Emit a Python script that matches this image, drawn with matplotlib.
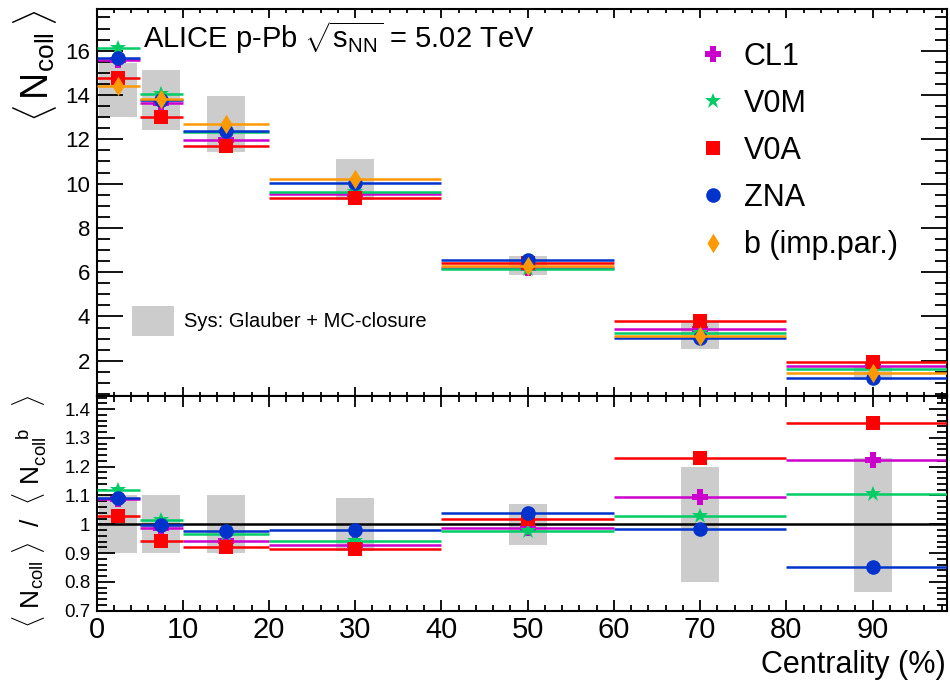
import numpy as np
import matplotlib
matplotlib.use('Agg')
import matplotlib.pyplot as plt
from matplotlib.lines import Line2D
from matplotlib.patches import Patch
from matplotlib.ticker import MultipleLocator, FuncFormatter

plt.rcParams['font.family'] = ['Liberation Sans', 'DejaVu Sans']
plt.rcParams['mathtext.fontset'] = 'custom'
plt.rcParams['mathtext.rm'] = 'Liberation Sans'
plt.rcParams['mathtext.it'] = 'Liberation Sans:italic'
plt.rcParams['mathtext.bf'] = 'Liberation Sans:bold'

# ---------------- data ----------------
bin_lo = [0, 5, 10, 20, 40, 60, 80]
bin_hi = [5, 10, 20, 40, 60, 80, 100]
centers = [2.5, 7.5, 15, 30, 50, 70, 90]

ncoll_cl1 = [15.58, 13.62, 11.99, 9.51, 6.21, 3.42, 1.78]
ncoll_v0m = [16.10, 14.03, 12.31, 9.63, 6.16, 3.24, 1.61]
ncoll_v0a = [14.79, 13.02, 11.71, 9.36, 6.41, 3.81, 1.96]
ncoll_zna = [15.65, 13.79, 12.38, 10.01, 6.55, 3.04, 1.23]
ncoll_b = [14.40, 13.81, 12.70, 10.20, 6.30, 3.10, 1.45]

sys_lo = [12.99, 12.42, 11.44, 9.25, 5.85, 2.51, 1.13]
sys_hi = [15.43, 15.15, 13.95, 11.10, 6.74, 3.73, 1.70]

ratio_cl1 = [1.087, 0.986, 0.943, 0.928, 0.986, 1.096, 1.223]
ratio_v0m = [1.119, 1.015, 0.966, 0.943, 0.978, 1.029, 1.104]
ratio_v0a = [1.029, 0.942, 0.922, 0.915, 1.018, 1.229, 1.351]
ratio_zna = [1.090, 0.998, 0.975, 0.980, 1.040, 0.983, 0.853]

ratio_sys_lo = [0.90, 0.90, 0.90, 0.908, 0.927, 0.80, 0.766]
ratio_sys_hi = [1.10, 1.10, 1.10, 1.09, 1.07, 1.20, 1.229]

labels = ['CL1', 'V0M', 'V0A', 'ZNA', 'b (imp.par.)']
# ---------------- styles ----------------
C_CL1 = '#cc00cc'
C_V0M = '#00cc66'
C_V0A = '#ff0000'
C_ZNA = '#0033cc'
C_B = '#ff9900'
GRAY = '#cccccc'
diamond = [(0, 1), (0.62, 0), (0, -1), (-0.62, 0), (0, 1)]

styles = {
    'CL1': dict(color=C_CL1, marker='P', ms=11),
    'V0M': dict(color=C_V0M, marker='*', ms=12),
    'V0A': dict(color=C_V0A, marker='s', ms=10),
    'ZNA': dict(color=C_ZNA, marker='o', ms=10.5),
    'b (imp.par.)': dict(color=C_B, marker=diamond, ms=14),
}

W, H = 950, 684
fig = plt.figure(figsize=(W / 100, H / 100), dpi=100)
left, right = 96.5 / W, 946.7 / W
ax1 = fig.add_axes([left, 1 - 395.5 / H, right - left, (395.5 - 9.3) / H])
ax2 = fig.add_axes([left, 1 - 610.7 / H, right - left, (610.7 - 395.5) / H])

c = np.array(centers, float)
xerr = [c - np.array(bin_lo), np.array(bin_hi) - c]
box_hw = 2.2
LW = 1.8

# upper panel boxes
ax1.bar(c, np.array(sys_hi) - np.array(sys_lo), bottom=sys_lo, width=2 * box_hw,
        color=GRAY, edgecolor='none', zorder=1)
series_up = [ncoll_cl1, ncoll_v0m, ncoll_v0a, ncoll_zna, ncoll_b]
for i, (lab, vals) in enumerate(zip(labels, series_up)):
    st = styles[lab]
    ax1.errorbar(c, vals, xerr=xerr, fmt='none', ecolor=st['color'], elinewidth=LW,
                 capsize=0, zorder=2 + 2 * i)
    ax1.plot(c, vals, linestyle='none', marker=st['marker'], ms=st['ms'],
             color=st['color'], mec=st['color'], mew=0, zorder=3 + 2 * i)

# lower panel
ax2.bar(c, np.array(ratio_sys_hi) - np.array(ratio_sys_lo), bottom=ratio_sys_lo,
        width=2 * box_hw, color=GRAY, edgecolor='none', zorder=1)
ax2.axhline(1.0, color='black', lw=1.8, zorder=1.5)
series_lo = [ratio_cl1, ratio_v0m, ratio_v0a, ratio_zna]
for i, (lab, vals) in enumerate(zip(labels[:4], series_lo)):
    st = styles[lab]
    ax2.errorbar(c, vals, xerr=xerr, fmt='none', ecolor=st['color'], elinewidth=LW,
                 capsize=0, zorder=2 + 2 * i)
    ax2.plot(c, vals, linestyle='none', marker=st['marker'], ms=st['ms'],
             color=st['color'], mec=st['color'], mew=0, zorder=3 + 2 * i)

# axes ranges / ticks
for ax in (ax1, ax2):
    ax.set_xlim(0, 98.6)
    ax.xaxis.set_major_locator(MultipleLocator(10))
    ax.xaxis.set_minor_locator(MultipleLocator(2))
    for s in ax.spines.values():
        s.set_linewidth(1.5)
ax1.set_ylim(0.43, 17.87)
ax1.yaxis.set_major_locator(MultipleLocator(2))
ax1.yaxis.set_minor_locator(MultipleLocator(0.5))
ax2.set_ylim(0.7, 1.447)
ax2.yaxis.set_major_locator(MultipleLocator(0.1))
ax2.yaxis.set_minor_locator(MultipleLocator(0.02))
ax2.yaxis.set_major_formatter(FuncFormatter(lambda v, p: '%g' % round(v, 2)))

ax1.tick_params(axis='both', which='both', direction='in', top=True, right=True, width=1.3)
ax1.tick_params(axis='y', which='major', length=19, labelsize=16, pad=4.5)
ax1.tick_params(axis='y', which='minor', length=9)
ax1.tick_params(axis='x', which='major', length=6.5, labelbottom=False)
ax1.tick_params(axis='x', which='minor', length=3.2)

ax2.tick_params(axis='both', which='both', direction='in', top=True, right=True, width=1.3)
ax2.tick_params(axis='y', which='major', length=13, labelsize=13.5, pad=4.5)
ax2.tick_params(axis='y', which='minor', length=7)
ax2.tick_params(axis='x', which='major', length=8, labelsize=21, pad=3.5)
ax2.tick_params(axis='x', which='minor', length=4)

# texts
ax1.text(0.0547, 0.899, r'ALICE p-Pb $\sqrt{\mathrm{s}_{\rm NN}}$ = 5.02 TeV',
         transform=ax1.transAxes, fontsize=21, ha='left', va='baseline')

handles = [Line2D([], [], linestyle='none', marker=styles[l]['marker'], ms=styles[l]['ms'],
                  color=styles[l]['color'], mew=0) for l in labels]
leg = ax1.legend(handles, labels, loc='upper left', bbox_to_anchor=(0.7076, 0.915),
                 frameon=False, fontsize=22, handlelength=1.0, handletextpad=0.5,
                 labelspacing=0.557, borderpad=0, borderaxespad=0)
ax1.add_artist(leg)
leg2 = ax1.legend([Patch(facecolor=GRAY, edgecolor='none')], ['Sys: Glauber + MC-closure'],
                  loc='upper left', bbox_to_anchor=(0.0418, 0.2317), frameon=False,
                  fontsize=14.5, handlelength=2.06, handleheight=1.9, handletextpad=0.5,
                  borderpad=0, borderaxespad=0)

fig.text(35 / W, 1 - 10 / H, r'$\langle\,\mathrm{N}_{\rm coll}\,\rangle$', rotation=90,
         ha='center', va='top', fontsize=27)
fig.text(30 / W, 1 - 395 / H,
         r'$\langle\ \mathrm{N}_{\rm coll}\ \rangle\ \ /\ \ \langle\ \mathrm{N}_{\rm coll}^{\ \ \ \ \ \rm b}\ \ \ \rangle$',
         rotation=90, ha='center', va='top', fontsize=19)
fig.text(946 / W, 1 - 665 / H, 'Centrality (%)', ha='right', va='center', fontsize=22)

fig.savefig('out.png', dpi=100)
